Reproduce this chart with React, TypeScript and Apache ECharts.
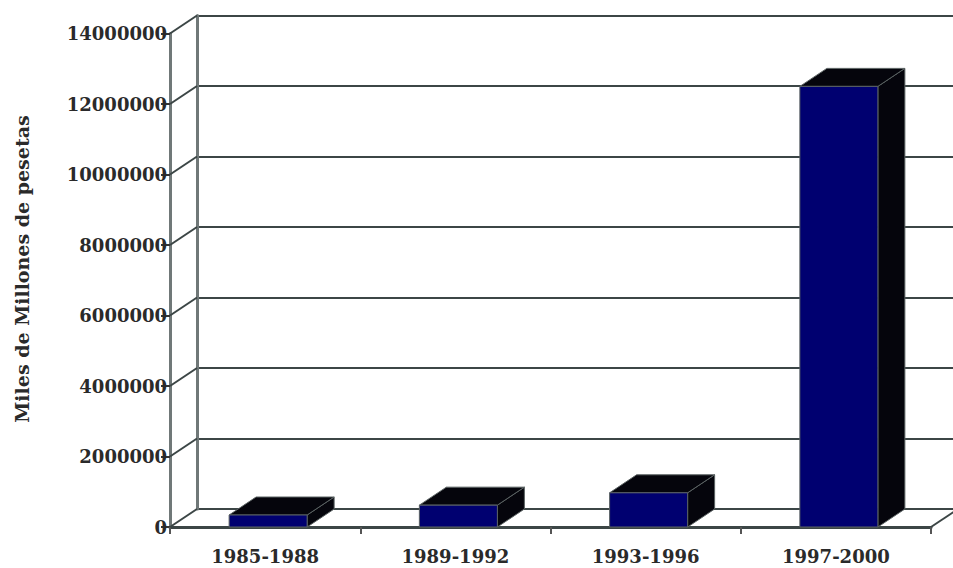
import React, { useEffect, useRef } from "react";
import * as echarts from "echarts";

const categories = ["1985-1988", "1989-1992", "1993-1996", "1997-2000"];
const values = [340000, 620000, 970000, 12500000];
const tickValues = [0, 2000000, 4000000, 6000000, 8000000, 10000000, 12000000, 14000000];
const yTitle = "Miles de Millones de pesetas";

const DX = 27;
const DY = -18;
const FONT = "'DejaVu Serif', 'Liberation Serif', serif";

export default function App() {
  const ref = useRef<HTMLDivElement>(null);
  useEffect(() => {
    if (!ref.current) return;
    const chart = echarts.init(ref.current, null, { renderer: "svg" });
    const lineColor = "#3c4646";
    chart.setOption({
      animation: false,
      backgroundColor: "#ffffff",
      grid: [
        { left: 170, top: 33.5, width: 761, height: 493.5 },
        { left: 197, top: 15.5, width: 761, height: 493.5 },
      ],
      graphic: [
        {
          type: "text",
          x: 22,
          y: 269,
          rotation: Math.PI / 2,
          style: {
            text: yTitle,
            fill: "#2a2a2a",
            font: `bold 19px ${FONT}`,
            align: "center",
            verticalAlign: "middle",
          },
        },
      ],
      xAxis: [
        {
          type: "category",
          gridIndex: 0,
          data: categories,
          boundaryGap: true,
          axisLine: { show: true, lineStyle: { color: lineColor, width: 3 } },
          axisTick: { show: true, length: 7, lineStyle: { color: "#555", width: 2 } },
          axisLabel: {
            margin: 20,
            color: "#2a2a2a",
            fontFamily: FONT,
            fontWeight: "bold",
            fontSize: 18,
          },
          splitLine: { show: false },
        },
        {
          type: "category",
          gridIndex: 1,
          data: categories,
          show: false,
        },
      ],
      yAxis: [
        {
          type: "value",
          gridIndex: 0,
          min: 0,
          max: 14000000,
          interval: 2000000,
          axisLine: { show: true, lineStyle: { color: "#707878", width: 3 } },
          axisTick: { show: true, length: 9, lineStyle: { color: "#333", width: 2 } },
          axisLabel: {
            margin: 3,
            color: "#2a2a2a",
            fontFamily: FONT,
            fontWeight: "bold",
            fontSize: 18,
            formatter: (v: number) => String(v),
          },
          splitLine: { show: false },
        },
        {
          type: "value",
          gridIndex: 1,
          min: 0,
          max: 14000000,
          interval: 2000000,
          axisLine: { show: true, lineStyle: { color: "#707878", width: 3 } },
          axisTick: { show: false },
          axisLabel: { show: false },
          splitLine: { show: true, lineStyle: { color: lineColor, width: 2 } },
        },
      ],
      series: [
        {
          type: "custom",
          xAxisIndex: 0,
          yAxisIndex: 0,
          data: tickValues.map((v) => [0, v]),
          silent: true,
          z: 3,
          renderItem: (params: any, api: any) => {
            const cs = params.coordSys;
            const v = api.value(1);
            const y = api.coord([0, v])[1];
            const children: any[] = [
              {
                type: "line",
                shape: { x1: cs.x, y1: y, x2: cs.x + DX, y2: y + DY },
                style: { stroke: lineColor, lineWidth: 2 },
              },
            ];
            if (v === 0) {
              children.push({
                type: "line",
                shape: { x1: cs.x + cs.width, y1: y, x2: cs.x + cs.width + DX, y2: y + DY },
                style: { stroke: lineColor, lineWidth: 2 },
              });
            }
            return { type: "group", children };
          },
        },
        {
          type: "custom",
          xAxisIndex: 0,
          yAxisIndex: 0,
          data: values.map((v, i) => [i, v]),
          z: 5,
          renderItem: (params: any, api: any) => {
            const idx = api.value(0);
            const top = api.coord([idx, api.value(1)]);
            const bot = api.coord([idx, 0]);
            const w = api.size([1, 0])[0] * 0.41;
            const x1 = top[0] - w / 2 + 3;
            const x2 = x1 + w;
            const yt = top[1];
            const yb = bot[1];
            return {
              type: "group",
              children: [
                {
                  type: "polygon",
                  shape: {
                    points: [
                      [x2, yt],
                      [x2 + DX, yt + DY],
                      [x2 + DX, yb + DY],
                      [x2, yb],
                    ],
                  },
                  style: { fill: "#05050c", stroke: "#5a6262", lineWidth: 1 },
                },
                {
                  type: "polygon",
                  shape: {
                    points: [
                      [x1, yt],
                      [x2, yt],
                      [x2 + DX, yt + DY],
                      [x1 + DX, yt + DY],
                    ],
                  },
                  style: { fill: "#05050c", stroke: "#5a6262", lineWidth: 1 },
                },
                {
                  type: "rect",
                  shape: { x: x1, y: yt, width: w, height: yb - yt },
                  style: { fill: "#000070", stroke: "#5a6262", lineWidth: 1 },
                },
              ],
            };
          },
        },
      ],
    });
    return () => chart.dispose();
  }, []);
  return (
    <div
      ref={ref}
      style={{ position: "fixed", left: 0, top: 0, width: 953, height: 568 }}
    />
  );
}
